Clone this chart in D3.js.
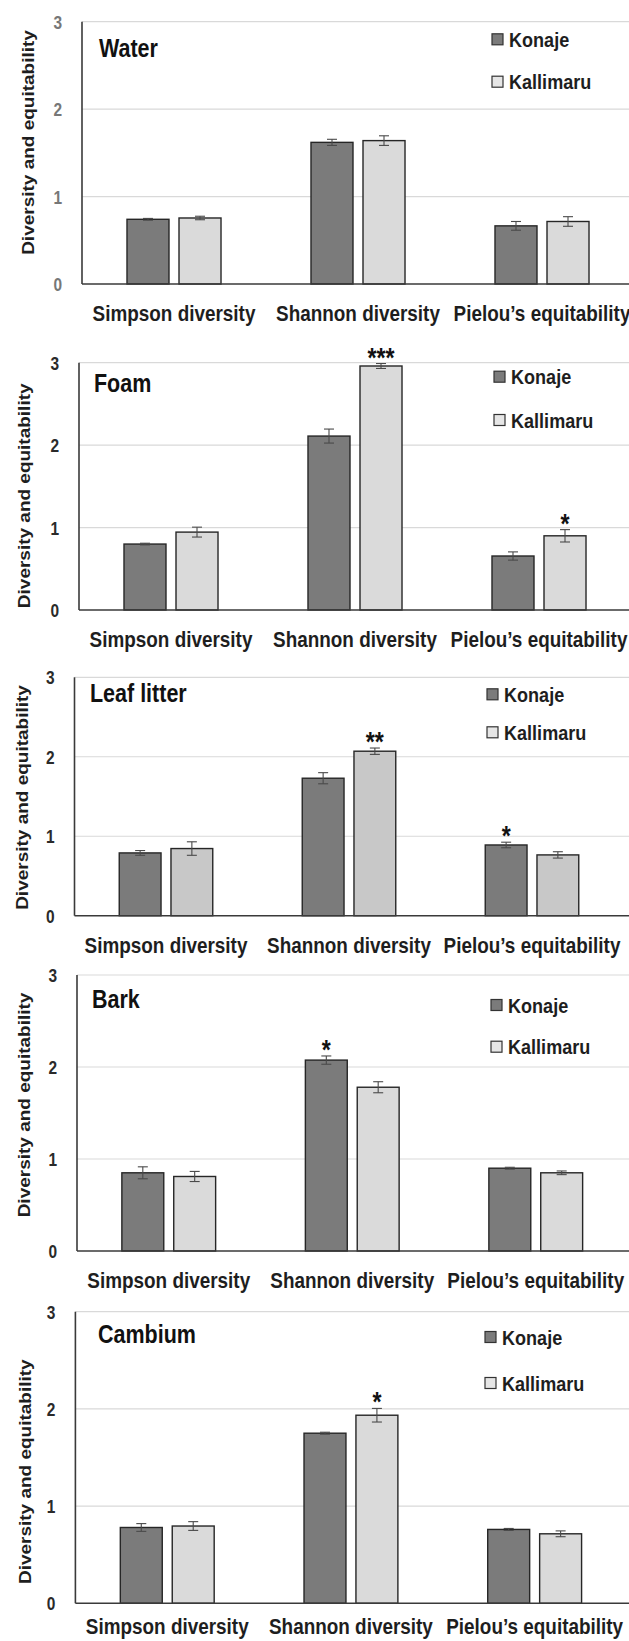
<!DOCTYPE html>
<html>
<head>
<meta charset="utf-8">
<script src="https://cdn.jsdelivr.net/npm/d3@7/dist/d3.min.js"></script>
<style>
  html, body { margin: 0; padding: 0; background: #fff; }
  svg { display: block; font-family: "Liberation Sans", Arial, sans-serif; }
</style>
</head>
<body>
<svg id="chart" width="629" height="1641"></svg>
<script>
// ---------------- data ----------------
const panels = ["Water", "Foam", "Leaf litter", "Bark", "Cambium"];
const categories = ["Simpson diversity", "Shannon diversity", "Pielou\u2019s equitability"];
const series = ["Konaje", "Kallimaru"];
const yTicks = [0, 1, 2, 3];

// means [Simpson, Shannon, Pielou]
const waterKonaje    = [0.74, 1.62, 0.665];
const waterKallimaru = [0.755, 1.64, 0.715];
const foamKonaje     = [0.80, 2.11, 0.655];
const foamKallimaru  = [0.945, 2.96, 0.90];
const leafKonaje     = [0.79, 1.73, 0.89];
const leafKallimaru  = [0.845, 2.07, 0.765];
const barkKonaje     = [0.85, 2.075, 0.90];
const barkKallimaru  = [0.81, 1.78, 0.85];
const cambKonaje     = [0.78, 1.75, 0.76];
const cambKallimaru  = [0.795, 1.935, 0.715];

// standard errors
const waterKonajeErr    = [0.01, 0.035, 0.05];
const waterKallimaruErr = [0.02, 0.055, 0.055];
const foamKonajeErr     = [0.01, 0.085, 0.05];
const foamKallimaruErr  = [0.06, 0.03, 0.075];
const leafKonajeErr     = [0.03, 0.07, 0.035];
const leafKallimaruErr  = [0.085, 0.04, 0.04];
const barkKonajeErr     = [0.065, 0.045, 0.01];
const barkKallimaruErr  = [0.055, 0.06, 0.02];
const cambKonajeErr     = [0.04, 0.01, 0.01];
const cambKallimaruErr  = [0.045, 0.07, 0.03];

// significance marks [series][category]
const waterSig = [["", "", ""], ["", "", ""]];
const foamSig  = [["", "", ""], ["", "***", "*"]];
const leafSig  = [["", "", "*"], ["", "**", ""]];
const barkSig  = [["", "*", ""], ["", "", ""]];
const cambSig  = [["", "", ""], ["", "*", ""]];

const means = [
  [waterKonaje, waterKallimaru], [foamKonaje, foamKallimaru], [leafKonaje, leafKallimaru],
  [barkKonaje, barkKallimaru], [cambKonaje, cambKallimaru]
];
const errs = [
  [waterKonajeErr, waterKallimaruErr], [foamKonajeErr, foamKallimaruErr], [leafKonajeErr, leafKallimaruErr],
  [barkKonajeErr, barkKallimaruErr], [cambKonajeErr, cambKallimaruErr]
];
const sigs = [waterSig, foamSig, leafSig, barkSig, cambSig];

// ---------------- layout (positions / styles) ----------------
const W = 629;
const SQ = 0.86; // horizontal squeeze of the original raster
const layout = [
  {top: 21.7,  bottom: 284,    left: 82,   step: 184, titleX: 99, titleDy: 35, legX: 492, leg1: 17.6, leg2: 60,   yTitleX: 28, yTitleY: 142.5, tickColor: "#777777", kalFill: "#dadada", labDy: 37},
  {top: 362.7, bottom: 610,    left: 79,   step: 184, titleX: 94, titleDy: 29, legX: 494, leg1: 14,   leg2: 57.3, yTitleX: 24, yTitleY: 495.8, tickColor: "#2a2a2a", kalFill: "#dadada", labDy: 37},
  {top: 677.3, bottom: 915.7,  left: 74.5, step: 183, titleX: 90, titleDy: 24.4, legX: 487, leg1: 17, leg2: 55, yTitleX: 22, yTitleY: 797.5, tickColor: "#2a2a2a", kalFill: "#c8c8c8", labDy: 37},
  {top: 975,   bottom: 1251,   left: 77,   step: 183.5, titleX: 92, titleDy: 33, legX: 491, leg1: 30, leg2: 71.7, yTitleX: 24, yTitleY: 1105, tickColor: "#2a2a2a", kalFill: "#dadada", labDy: 37},
  {top: 1311.7,bottom: 1603.3, left: 75.4, step: 183.7, titleX: 98, titleDy: 31, legX: 485, leg1: 25.3, leg2: 71.3, yTitleX: 25, yTitleY: 1471.7, tickColor: "#2a2a2a", kalFill: "#dadada", labDy: 31}
];
const konajeFill = "#7b7b7b";

const svg = d3.select("#chart");
svg.append("rect").attr("width", W).attr("height", 1641).attr("fill", "#fff");

panels.forEach((name, pi) => {
  const L = layout[pi];
  const g = svg.append("g");
  const y = d3.scaleLinear().domain([0, 3]).range([L.bottom, L.top]);
  const x0 = d3.scaleBand().domain(categories).range([L.left, L.left + 3 * L.step]).padding(0);
  const x1 = d3.scaleBand().domain(series).range([0, L.step]).paddingInner(0.1923).paddingOuter(0.865);
  const fills = [konajeFill, L.kalFill];

  // gridlines
  g.append("g").selectAll("line").data(yTicks.filter(t => t > 0)).join("line")
    .attr("x1", L.left).attr("x2", W)
    .attr("y1", d => y(d)).attr("y2", d => y(d))
    .attr("stroke", "#d9d9d9").attr("stroke-width", 1.2);

  // bars
  const rows = [];
  series.forEach((s, si) => categories.forEach((c, ci) => {
    rows.push({s, si, c, v: means[pi][si][ci], e: errs[pi][si][ci], sig: sigs[pi][si][ci]});
  }));

  g.append("g").selectAll("rect").data(rows).join("rect")
    .attr("x", d => x0(d.c) + x1(d.s))
    .attr("y", d => y(d.v))
    .attr("width", x1.bandwidth())
    .attr("height", d => y(0) - y(d.v))
    .attr("fill", d => fills[d.si])
    .attr("stroke", "#262626").attr("stroke-width", 1.4);

  // error bars
  const eb = g.append("g").attr("stroke", "#4a4a4a").attr("stroke-width", 1.1);
  rows.forEach(d => {
    const cx = x0(d.c) + x1(d.s) + x1.bandwidth() / 2;
    eb.append("line").attr("x1", cx).attr("x2", cx).attr("y1", y(d.v - d.e)).attr("y2", y(d.v + d.e));
    eb.append("line").attr("x1", cx - 5).attr("x2", cx + 5).attr("y1", y(d.v - d.e)).attr("y2", y(d.v - d.e));
    eb.append("line").attr("x1", cx - 5).attr("x2", cx + 5).attr("y1", y(d.v + d.e)).attr("y2", y(d.v + d.e));
  });

  // significance stars
  g.append("g").selectAll("text").data(rows.filter(d => d.sig)).join("text")
    .attr("transform", d => `translate(${x0(d.c) + x1(d.s) + x1.bandwidth() / 2},${y(d.v + d.e) + 3}) scale(${SQ},1)`)
    .attr("text-anchor", "middle")
    .attr("font-size", 27).attr("font-weight", "bold").attr("fill", "#111")
    .text(d => d.sig);

  // axes lines
  g.append("line").attr("x1", L.left).attr("x2", L.left).attr("y1", y(3)).attr("y2", y(0))
    .attr("stroke", "#3a3a3a").attr("stroke-width", 1.6);
  g.append("line").attr("x1", L.left).attr("x2", W).attr("y1", y(0)).attr("y2", y(0))
    .attr("stroke", "#3a3a3a").attr("stroke-width", 1.6);

  // y tick labels
  const ya = g.append("g").attr("transform", `translate(${L.left},0)`)
    .call(d3.axisLeft(y).tickValues(yTicks).tickSize(0).tickPadding(0).tickFormat(d3.format("d")));
  ya.select(".domain").remove();
  ya.selectAll("text")
    .attr("x", -20 / SQ).attr("dy", "0.36em")
    .attr("transform", `scale(${SQ},1)`)
    .attr("font-size", 18).attr("font-weight", "bold").attr("font-family", "Liberation Sans, Arial, sans-serif")
    .attr("fill", L.tickColor);

  // x category labels
  const xa = g.append("g").attr("transform", `translate(0,${y(0)})`)
    .call(d3.axisBottom(x0).tickSize(0).tickPadding(0));
  xa.select(".domain").remove();
  xa.selectAll("text")
    .attr("y", L.labDy).attr("dy", 0)
    .attr("transform", `scale(${SQ},1)`)
    .attr("font-size", 22).attr("font-weight", "bold").attr("font-family", "Liberation Sans, Arial, sans-serif")
    .attr("fill", "#1e1e1e");

  // y axis title
  g.append("text")
    .attr("transform", `translate(${L.yTitleX},${L.yTitleY}) scale(${SQ},1) rotate(-90)`)
    .attr("text-anchor", "middle").attr("dy", "0.35em")
    .attr("font-size", 19).attr("font-weight", "bold").attr("fill", "#1e1e1e")
    .text("Diversity and equitability");

  // panel title
  g.append("text")
    .attr("transform", `translate(${L.titleX},${L.top + L.titleDy}) scale(${SQ},1)`)
    .attr("font-size", 25).attr("font-weight", "bold").attr("fill", "#111")
    .text(name);

  // legend
  const legY = [L.top + L.leg1, L.top + L.leg2];
  const legFills = [konajeFill, "#e6e6e6"];
  series.forEach((s, si) => {
    g.append("rect")
      .attr("x", L.legX).attr("y", legY[si] - 5.5).attr("width", 11).attr("height", 11)
      .attr("fill", legFills[si]).attr("stroke", "#333").attr("stroke-width", 1.2);
    g.append("text")
      .attr("transform", `translate(${L.legX + 17},${legY[si]}) scale(${SQ},1)`)
      .attr("dy", "0.36em")
      .attr("font-size", 21).attr("font-weight", "bold").attr("fill", "#1e1e1e")
      .text(s);
  });
});
</script>
</body>
</html>
